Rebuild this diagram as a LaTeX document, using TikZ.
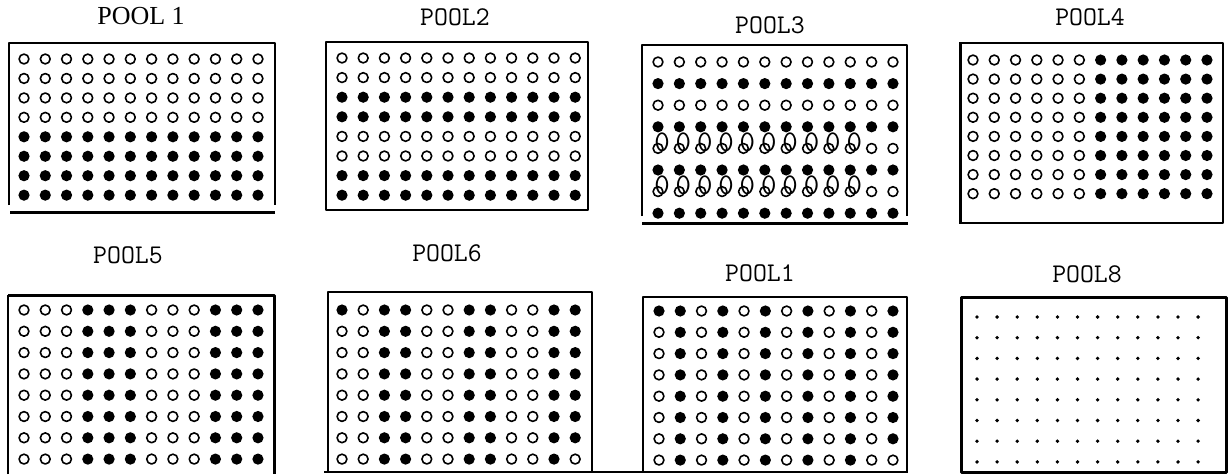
\documentclass[tikz,border=0pt]{standalone}
\usepackage{fontspec}
\setmainfont{Liberation Serif}
\usetikzlibrary{positioning}

\tikzset{
  open well/.style={draw, line width=1.6pt},
  thin frame/.style={line width=1.2pt},
  heavy frame/.style={line width=3pt},
  pool title/.style={font=\ttfamily\fontsize{27}{27}\selectfont\addfontfeature{LetterSpace=20}, inner sep=0pt},
  overprint/.style={font=\ttfamily\fontsize{30}{30}\selectfont, inner sep=0pt},
}

% x0, y0, dx, dy, rows (1 = filled well)
\newcommand{\wellplate}[5]{%
  \foreach \wrow [count=\j from 0] in {#5} {
    \foreach \w [count=\i from 0] in \wrow {
      \ifnum\w=1 \fill (#1+\i*#3, #2+\j*#4) circle (5.6pt);
      \else \draw[open well] (#1+\i*#3, #2+\j*#4) circle (4.9pt); \fi
    }
  }%
}

\begin{document}
\begin{tikzpicture}[x=1pt, y=-1pt, line join=round]
  \useasboundingbox (0,0) rectangle (1230,474);

  \node[pool title, font=\rmfamily\fontsize{26}{26}\selectfont] (t1) at (141,16) {POOL 1};
  \draw[thin frame] (9,205) -- (9,43) -- (275,43) -- (275,205);
  \draw[heavy frame] (10,212) -- (275,212);
  \wellplate{24}{59}{21.27}{19.45}{
    {0,0,0,0,0,0,0,0,0,0,0,0},{0,0,0,0,0,0,0,0,0,0,0,0},
    {0,0,0,0,0,0,0,0,0,0,0,0},{0,0,0,0,0,0,0,0,0,0,0,0},
    {1,1,1,1,1,1,1,1,1,1,1,1},{1,1,1,1,1,1,1,1,1,1,1,1},
    {1,1,1,1,1,1,1,1,1,1,1,1},{1,1,1,1,1,1,1,1,1,1,1,1}}

  \node[pool title] (t2) at (455,17) {POOL2};
  \draw[thin frame] (326,42) rectangle (588,210);
  \wellplate{342}{58}{21.2}{19.6}{
    {0,0,0,0,0,0,0,0,0,0,0,0},{0,0,0,0,0,0,0,0,0,0,0,0},
    {1,1,1,1,1,1,1,1,1,1,1,1},{1,1,1,1,1,1,1,1,1,1,1,1},
    {0,0,0,0,0,0,0,0,0,0,0,0},{0,0,0,0,0,0,0,0,0,0,0,0},
    {1,1,1,1,1,1,1,1,1,1,1,1},{1,1,1,1,1,1,1,1,1,1,1,1}}

  \node[pool title] (t3) at (770,25) {POOL3};
  \draw[thin frame] (642,216) -- (642,45) -- (907,45) -- (907,216);
  \draw[heavy frame] (642,223) -- (908,223);
  \wellplate{658}{62}{21.36}{21.6}{
    {0,0,0,0,0,0,0,0,0,0,0,0},{1,1,1,1,1,1,1,1,1,1,1,1},
    {0,0,0,0,0,0,0,0,0,0,0,0},{1,1,1,1,1,1,1,1,1,1,1,1},
    {0,0,0,0,0,0,0,0,0,0,0,0},{1,1,1,1,1,1,1,1,1,1,1,1},
    {0,0,0,0,0,0,0,0,0,0,0,0},{1,1,1,1,1,1,1,1,1,1,1,1}}
  \foreach \j in {4,6}
    \foreach \i in {0,...,9}
      \node[overprint] (z-\j-\i) at (662+\i*21.36, 56+\j*21.6) {0};

  \node[pool title] (t4) at (1090,17) {POOL4};
  \draw[thin frame] (960,43) -- (1223,43) -- (1223,223) -- (960,223);
  \draw[heavy frame] (960,42) -- (960,224);
  \wellplate{973}{60}{21.27}{19.1}{
    {0,0,0,0,0,0,1,1,1,1,1,1},{0,0,0,0,0,0,1,1,1,1,1,1},
    {0,0,0,0,0,0,1,1,1,1,1,1},{0,0,0,0,0,0,1,1,1,1,1,1},
    {0,0,0,0,0,0,1,1,1,1,1,1},{0,0,0,0,0,0,1,1,1,1,1,1},
    {0,0,0,0,0,0,1,1,1,1,1,1},{0,0,0,0,0,0,1,1,1,1,1,1}}

  \node[pool title] (t5) at (128,255) {POOL5};
  \draw[thin frame] (8,474) -- (8,295);
  \draw[heavy frame] (8,295) -- (274,295) -- (274,474);
  \wellplate{24}{310}{21.27}{21.3}{
    {0,0,0,1,1,1,0,0,0,1,1,1},{0,0,0,1,1,1,0,0,0,1,1,1},
    {0,0,0,1,1,1,0,0,0,1,1,1},{0,0,0,1,1,1,0,0,0,1,1,1},
    {0,0,0,1,1,1,0,0,0,1,1,1},{0,0,0,1,1,1,0,0,0,1,1,1},
    {0,0,0,1,1,1,0,0,0,1,1,1},{0,0,0,1,1,1,0,0,0,1,1,1}}

  \node[pool title] (t6) at (447,253) {POOL6};
  \draw[thin frame] (328,472) -- (328,292) -- (592,292) -- (592,472);
  \draw[thin frame] (324,472) -- (908,472);
  \wellplate{342}{310}{21.2}{21.3}{
    {1,0,1,1,0,0,1,1,0,0,1,1},{0,0,1,1,0,0,1,1,0,0,1,1},
    {0,0,1,1,0,0,1,1,0,0,1,1},{0,0,1,1,0,0,1,1,0,0,1,1},
    {0,0,1,1,0,0,1,1,0,0,1,1},{0,0,1,1,0,0,1,1,0,0,1,1},
    {0,0,1,1,0,0,1,1,0,0,1,1},{0,0,1,1,0,0,1,1,0,0,1,0}}

  \node[pool title] (t7) at (760,273) {POOL1};
  \draw[thin frame] (643,472) -- (643,297) -- (907,297) -- (907,472);
  \wellplate{659}{311}{21.27}{21.3}{
    {1,1,0,1,0,1,0,1,0,1,0,1},{0,1,0,1,0,1,0,1,0,1,0,1},
    {0,1,0,1,0,1,0,1,0,1,0,1},{0,1,0,1,0,1,0,1,0,1,0,1},
    {0,1,0,1,0,1,0,1,0,1,0,1},{0,1,0,1,0,1,0,1,0,1,0,1},
    {0,1,0,1,0,1,0,1,0,1,0,1},{0,1,0,1,0,1,0,1,0,1,0,0}}

  \node[pool title] (t8) at (1087,274) {POOL8};
  \draw[heavy frame] (961,297) rectangle (1226,472);
  \foreach \j in {0,...,7}
    \foreach \i in {0,...,11}
      \fill (977+\i*20.1, 317+\j*20.7) circle (1.9pt);
\end{tikzpicture}
\end{document}
